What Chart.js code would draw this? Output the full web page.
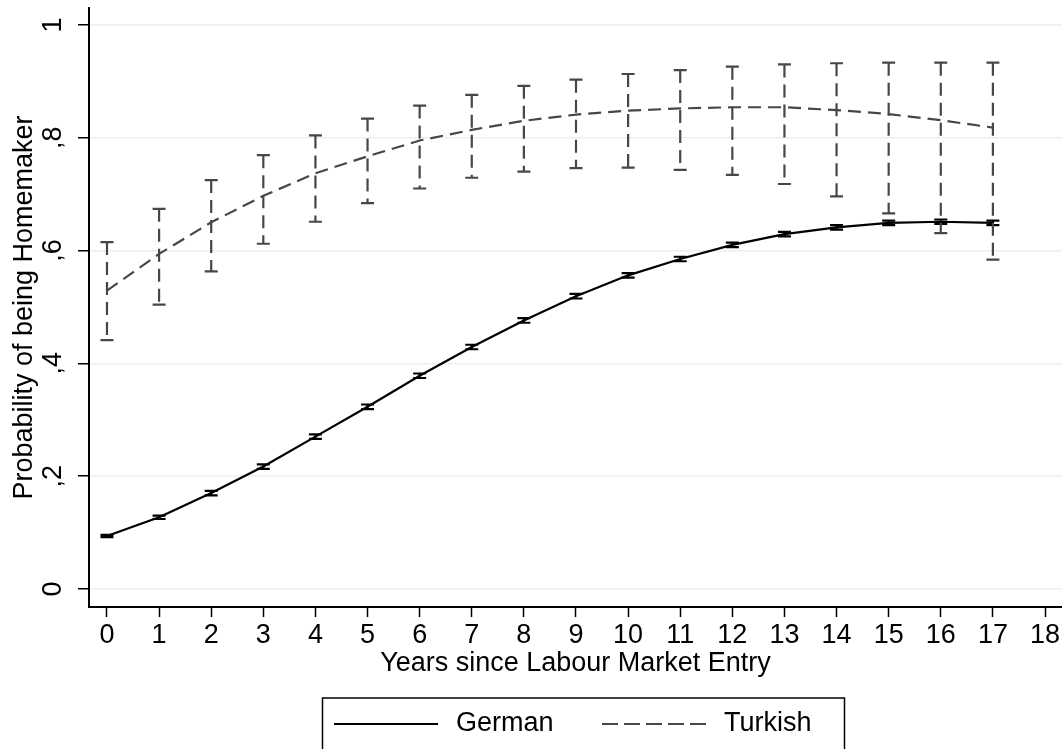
<!DOCTYPE html>
<html>
<head>
<meta charset="utf-8">
<script src="https://cdn.jsdelivr.net/npm/chart.js@4"></script>
<style>
  body { margin: 0; background: #fff; }
  canvas { display: block; }
</style>
</head>
<body>
<canvas id="chart" width="1062" height="749"></canvas>
<script>
// years since entry
var years = [0, 1, 2, 3, 4, 5, 6, 7, 8, 9, 10, 11, 12, 13, 14, 15, 16, 17];

// predicted probabilities + 95% CI
var german     = [0.094, 0.127, 0.170, 0.217, 0.270, 0.323, 0.378, 0.429, 0.476, 0.519, 0.556, 0.585, 0.610, 0.629, 0.641, 0.649, 0.651, 0.649];
var germanLow  = [0.092, 0.124, 0.166, 0.213, 0.266, 0.319, 0.374, 0.425, 0.472, 0.515, 0.552, 0.581, 0.606, 0.625, 0.637, 0.645, 0.647, 0.645];
var germanHigh = [0.096, 0.130, 0.174, 0.221, 0.274, 0.327, 0.382, 0.433, 0.480, 0.523, 0.560, 0.589, 0.614, 0.633, 0.645, 0.653, 0.655, 0.653];

var turkish     = [0.529, 0.594, 0.650, 0.697, 0.737, 0.767, 0.795, 0.814, 0.830, 0.841, 0.848, 0.852, 0.854, 0.854, 0.849, 0.842, 0.831, 0.818];
var turkishLow  = [0.441, 0.504, 0.563, 0.612, 0.651, 0.684, 0.710, 0.729, 0.740, 0.746, 0.747, 0.743, 0.734, 0.718, 0.696, 0.666, 0.631, 0.584];
var turkishHigh = [0.615, 0.674, 0.725, 0.769, 0.804, 0.834, 0.857, 0.876, 0.892, 0.903, 0.913, 0.920, 0.926, 0.930, 0.932, 0.933, 0.933, 0.933];

var xTicks = [0, 1, 2, 3, 4, 5, 6, 7, 8, 9, 10, 11, 12, 13, 14, 15, 16, 17, 18];
var yTicks = [0, 0.2, 0.4, 0.6, 0.8, 1];
var yTickLabels = ['0', ',2', ',4', ',6', ',8', '1'];

var seriesNames = ['German', 'Turkish'];

Chart.defaults.font.family = "'Liberation Sans', Arial, sans-serif";
Chart.defaults.font.size = 27;
Chart.defaults.color = '#000';

function points(ys) {
  return years.map(function(x, i) { return {x: x, y: ys[i]}; });
}

// vertical CI bars with caps, same dash as the line
var errorBars = {
  id: 'errorBars',
  afterDatasetsDraw: function(chart) {
    var ctx = chart.ctx;
    var xs = chart.scales.x, ys = chart.scales.y;
    chart.data.datasets.forEach(function(ds) {
      ctx.save();
      ctx.strokeStyle = ds.borderColor;
      ctx.lineWidth = ds.borderWidth;
      for (var i = 0; i < years.length; i++) {
        var px = xs.getPixelForValue(years[i]);
        var lo = ys.getPixelForValue(ds.low[i]);
        var hi = ys.getPixelForValue(ds.high[i]);
        ctx.setLineDash(ds.borderDash || []);
        ctx.beginPath();
        ctx.moveTo(px, hi);
        ctx.lineTo(px, lo);
        ctx.stroke();
        ctx.setLineDash([]);
        ctx.beginPath();
        ctx.moveTo(px - 6.5, hi); ctx.lineTo(px + 6.5, hi);
        ctx.moveTo(px - 6.5, lo); ctx.lineTo(px + 6.5, lo);
        ctx.stroke();
      }
      ctx.restore();
    });
  }
};

// boxed legend under the x title
var boxLegend = {
  id: 'boxLegend',
  afterDraw: function(chart) {
    var ctx = chart.ctx;
    var dsets = chart.data.datasets;
    ctx.save();
    ctx.strokeStyle = '#000';
    ctx.lineWidth = 1.5;
    ctx.strokeRect(322.5, 698, 522, 70);

    var rowY = 724;
    var starts = [334, 602];
    ctx.font = "27px 'Liberation Sans', Arial, sans-serif";
    ctx.textBaseline = 'middle';
    ctx.fillStyle = '#000';
    for (var i = 0; i < dsets.length; i++) {
      ctx.strokeStyle = dsets[i].borderColor;
      ctx.lineWidth = 2;
      ctx.setLineDash(i === 0 ? [] : [16, 6]);
      ctx.beginPath();
      ctx.moveTo(starts[i], rowY);
      ctx.lineTo(starts[i] + 104, rowY);
      ctx.stroke();
      ctx.setLineDash([]);
      ctx.fillText(seriesNames[i], starts[i] + 122, rowY);
    }
    ctx.restore();
  }
};

function noPad(scale) {
  scale.paddingTop = 0;
  scale.paddingBottom = 0;
  scale.paddingLeft = 0;
  scale.paddingRight = 0;
}

var chart = new Chart(document.getElementById('chart'), {
  type: 'line',
  data: {
    datasets: [
      {
        label: seriesNames[0],
        data: points(german),
        low: germanLow,
        high: germanHigh,
        borderColor: '#000',
        borderWidth: 2.2,
        pointRadius: 0,
        tension: 0
      },
      {
        label: seriesNames[1],
        data: points(turkish),
        low: turkishLow,
        high: turkishHigh,
        borderColor: '#474747',
        borderWidth: 2.2,
        borderDash: [13, 7],
        pointRadius: 0,
        tension: 0
      }
    ]
  },
  options: {
    responsive: false,
    animation: false,
    layout: { padding: { left: 0, top: 8, right: 0, bottom: 62 } },
    plugins: {
      legend: { display: false },
      tooltip: { enabled: false }
    },
    scales: {
      x: {
        type: 'linear',
        min: -0.345,
        max: 18.326,
        afterBuildTicks: function(scale) {
          scale.ticks = xTicks.map(function(v) { return {value: v}; });
        },
        afterFit: function(scale) {
          scale.height = 80;
          noPad(scale);
        },
        ticks: {
          autoSkip: false,
          maxRotation: 0,
          padding: 2,
          callback: function(v) { return String(v); }
        },
        grid: {
          drawOnChartArea: false,
          tickLength: 10,
          tickColor: '#000',
          tickWidth: 1.5
        },
        border: { color: '#000', width: 2 },
        title: {
          display: true,
          text: 'Years since Labour Market Entry',
          padding: { top: 0, bottom: 7 }
        }
      },
      y: {
        type: 'linear',
        min: -0.032,
        max: 1.03,
        afterBuildTicks: function(scale) {
          scale.ticks = yTicks.map(function(v) { return {value: v}; });
        },
        afterFit: function(scale) {
          scale.width = 89;
          noPad(scale);
        },
        ticks: {
          autoSkip: false,
          minRotation: 90,
          maxRotation: 90,
          crossAlign: 'center',
          padding: 13,
          callback: function(v) {
            var i = yTicks.indexOf(v);
            return i >= 0 ? yTickLabels[i] : '';
          }
        },
        grid: {
          color: '#e8f0f1',
          lineWidth: 1.5,
          tickLength: 11,
          tickColor: '#000',
          tickWidth: 1.5
        },
        border: { color: '#000', width: 2 },
        title: {
          display: true,
          text: 'Probability of being Homemaker',
          padding: { top: 8, bottom: 0 }
        }
      }
    }
  },
  plugins: [errorBars, boxLegend]
});
</script>
</body>
</html>
